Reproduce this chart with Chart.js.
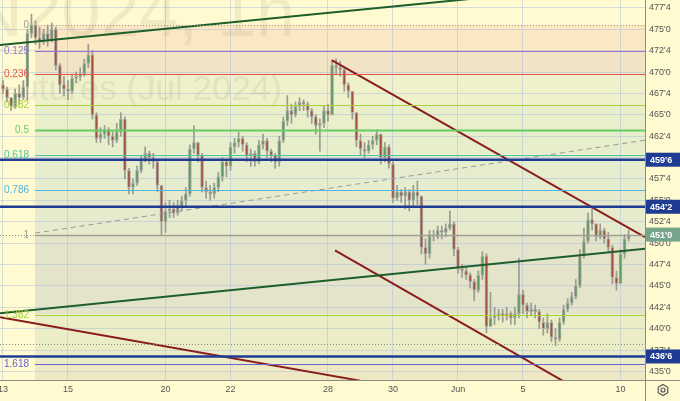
<!DOCTYPE html>
<html><head><meta charset="utf-8">
<script src="https://cdn.jsdelivr.net/npm/chart.js@4.4.1/dist/chart.umd.min.js"></script>
<style>html,body{margin:0;padding:0;background:#fffad0;}#wrap{width:680px;height:401px;position:relative;}</style>
</head><body><div id="wrap"><canvas id="c"></canvas></div>
<script>
// ---- data ----
const dayLabels = ["13","15","20","22","28","30","Jun","5","10"];
const dayTicks  = [0,2,5,7,10,12,14,16,19];
const barsPerDay = 8;
const opens = [468.5,468.0,467.0,466.0,467.5,467.0,468.25,474.5,475.5,474.0,473.5,474.5,473.75,475.0,470.75,468.5,468.0,467.75,469.25,469.5,469.75,471.0,472.0,465.0,462.25,462.75,463.25,462.5,462.0,463.0,464.5,458.5,456.5,457.0,458.5,459.75,460.5,460.0,459.5,456.75,452.5,453.75,454.0,453.5,454.25,455.0,455.75,461.0,461.75,460.25,456.5,456.0,455.75,456.5,457.75,459.5,459.0,461.25,461.75,462.25,461.5,460.25,460.5,459.5,461.5,462.0,460.75,460.25,459.5,462.0,464.25,465.5,465.0,466.0,466.5,466.25,465.5,464.75,463.75,464.0,465.5,465.0,470.75,470.5,470.25,468.5,467.75,465.25,462.0,461.0,460.75,461.5,462.0,462.75,460.0,461.25,459.25,455.25,456.0,455.5,456.0,455.0,456.0,455.5,449.5,448.75,451.0,450.75,451.5,451.25,451.75,452.25,449.25,447.0,446.75,446.25,445.5,444.5,446.25,448.5,440.25,441.25,441.5,441.75,441.5,441.75,441.25,441.75,444.0,442.75,442.0,442.25,442.0,440.75,440.0,440.75,439.0,438.75,440.75,442.25,443.0,443.75,445.0,448.5,450.25,452.75,452.25,450.75,451.5,450.5,449.5,446.0,445.25,448.75,450.5];
const highs = [469.0,468.25,467.0,468.0,468.5,469.0,475.0,476.75,476.0,475.25,475.0,475.5,475.75,475.25,471.0,469.5,469.0,469.75,470.0,470.5,471.5,473.25,472.5,465.25,463.5,463.75,463.5,463.0,464.0,465.25,464.75,458.75,457.5,459.0,460.25,461.25,460.75,460.5,459.75,456.75,454.75,455.0,454.75,455.0,455.5,456.5,461.5,463.75,461.75,460.5,457.25,456.75,457.0,458.25,460.0,459.75,461.75,462.25,463.0,462.5,461.75,461.0,460.75,462.0,462.75,462.25,461.0,460.5,462.5,464.75,467.25,466.25,466.5,467.0,466.75,466.5,465.75,465.0,464.5,466.0,466.25,471.25,471.5,471.25,470.5,468.75,467.75,465.25,462.75,461.75,462.0,462.5,463.25,462.75,461.75,461.5,459.5,456.75,456.25,456.5,456.25,456.75,457.25,455.5,450.5,451.5,451.5,452.0,452.0,452.25,453.75,452.5,449.5,447.5,447.25,446.5,445.75,446.75,449.0,448.75,444.25,442.5,442.25,442.25,442.5,442.0,442.5,448.25,444.5,443.0,443.0,442.75,442.25,441.25,441.75,441.0,440.0,441.25,442.75,443.5,444.25,445.75,449.25,451.75,453.5,454.0,452.25,452.25,451.75,451.25,449.75,446.75,449.25,451.0,451.5];
const lows = [467.5,466.5,465.5,465.75,466.25,466.75,466.75,474.0,473.25,472.75,473.25,473.0,473.5,470.25,467.5,467.25,466.75,467.5,468.75,469.0,469.5,470.5,464.5,461.75,461.75,462.25,461.5,461.25,461.75,462.5,457.5,455.75,455.75,456.75,458.25,459.5,459.25,458.75,456.0,451.0,451.25,453.0,453.0,453.25,453.75,454.25,455.5,460.5,459.5,456.0,455.25,455.0,455.25,456.0,457.25,457.75,458.5,460.5,461.25,460.75,459.5,459.0,459.0,459.25,461.0,460.0,459.5,458.75,459.0,461.75,463.75,464.0,464.75,465.5,465.5,464.75,464.0,462.75,460.75,463.5,464.25,465.0,469.75,469.5,467.75,467.0,464.5,461.25,460.25,460.0,460.5,461.0,461.5,459.25,459.5,458.75,454.75,455.0,454.75,454.0,453.75,454.25,454.5,448.75,447.5,448.25,450.25,450.5,450.5,450.75,451.5,448.5,446.5,446.0,445.75,444.75,443.25,444.25,445.75,439.5,440.25,440.5,441.0,440.75,441.0,440.5,440.5,441.25,441.75,441.25,441.5,441.25,440.0,439.25,439.5,438.5,438.0,438.5,440.5,442.0,442.75,443.5,444.75,448.25,450.0,451.5,450.25,450.5,450.0,449.0,445.25,444.5,445.25,448.25,450.25];
const closes = [468.0,467.0,466.0,467.5,467.0,468.25,474.5,475.5,474.0,473.5,474.5,473.75,475.0,470.75,468.5,468.0,467.75,469.25,469.5,469.75,471.0,472.0,465.0,462.25,462.75,463.25,462.5,462.0,463.0,464.5,458.5,456.5,457.0,458.5,459.75,460.5,460.0,459.5,456.75,452.5,453.75,454.0,453.5,454.25,455.0,455.75,461.0,461.75,460.25,456.5,456.0,455.75,456.5,457.75,459.5,459.0,461.25,461.75,462.25,461.5,460.25,460.5,459.5,461.5,462.0,460.75,460.25,459.5,462.0,464.25,465.5,465.0,466.0,466.5,466.25,465.5,464.75,463.75,464.0,465.5,465.0,470.75,470.5,470.25,468.5,467.75,465.25,462.0,461.0,460.75,461.5,462.0,462.75,460.0,461.25,459.25,455.25,456.0,455.5,456.0,455.0,456.0,455.5,449.5,448.75,451.0,450.75,451.5,451.25,451.75,452.25,449.25,447.0,446.75,446.25,445.5,444.5,446.25,448.5,440.25,441.25,441.5,441.75,441.5,441.75,441.25,441.75,444.0,442.75,442.0,442.25,442.0,440.75,440.0,440.75,439.0,438.75,440.75,442.25,443.0,443.75,445.0,448.5,450.25,452.75,452.25,450.75,451.5,450.5,449.5,446.0,445.25,448.75,450.5,451.0];
const yTicks = [435,437.5,440,442.5,445,447.5,450,452.5,455,457.5,460,462.5,465,467.5,470,472.5,475,477.5];
const fibStartDay = 0.985;
const fib0 = 475.5, fib1 = 451.0;
const fibRatios = [0,0.125,0.236,0.382,0.5,0.618,0.786,1,1.382,1.618];
const fibLabels = ["0","0.125","0.236","0.382","0.5","0.618","0.786","1","1.382","1.618"];
const keyLevels = [459.75, 454.25, 436.75];
const lastPrice = 451.0;
const dottedLevel = 438.25;
const greenUpper = [{x:-0.0923,y:473.15},{x:19.754,y:480.55}];
const greenLower = [{x:-0.0923,y:441.80},{x:19.754,y:449.34}];
const redUpper   = [{x:10.114,y:471.39},{x:19.754,y:450.70}];
const redLower   = [{x:10.215,y:449.15},{x:17.754,y:432.75}];
const redLeft    = [{x:-0.0923,y:441.33},{x:10.985,y:433.92}];
const grayDashed = [{x:0.985,y:451.17},{x:19.754,y:462.03}];

// ---- styles ----
const BG = '#fffad0';
const bandColors = ['#fbe8c3','#f1e4c4','#eff1ca','#e9efc9','#e6eecb','#e6edcf','#e7ebce','#e4e4cb','#ebedc6','#efe9c3'];
const fibColors = ['#9a9a90','#9575cd','#e0584f','#a8d23c','#66cc66','#4fc4a0','#4fb3e0','#a0a094','#a8d23c','#6b63d6'];
const FONT = '"Liberation Sans", Arial, sans-serif';
const fmt = v => { const i = Math.floor(v + 1e-9); const e = Math.round((v - i) * 8); return i + "'" + e; };
const fibPrice = r => fib0 - r * (fib0 - fib1);

const idx = closes.map((_, i) => i / barsPerDay);
const wickData = idx.map((d, i) => ({x: d, y: [lows[i], highs[i]]}));
const bodyData = idx.map((d, i) => ({x: d, y: [opens[i], closes[i]]}));

const decor = {
  id: 'decor',
  beforeDraw(chart) {
    const {ctx, chartArea: a, scales: {x, y}} = chart;
    ctx.save();
    ctx.fillStyle = BG; ctx.fillRect(0, 0, chart.width, chart.height);
    const x0 = x.getPixelForValue(fibStartDay);
    for (let i = 0; i < fibRatios.length; i++) {
      const p1 = y.getPixelForValue(fibPrice(fibRatios[i]));
      const p2 = i + 1 < fibRatios.length ? y.getPixelForValue(fibPrice(fibRatios[i + 1])) : a.bottom;
      ctx.fillStyle = bandColors[i];
      ctx.fillRect(x0, p1, a.right - x0, p2 - p1);
    }
    ctx.restore();
  },
  beforeDatasetsDraw(chart) {
    const {ctx, chartArea: a} = chart;
    ctx.save();
    ctx.beginPath(); ctx.rect(a.left, a.top, a.right - a.left, a.bottom - a.top); ctx.clip();
    ctx.fillStyle = 'rgba(90,80,40,0.085)';
    ctx.textBaseline = 'alphabetic';
    ctx.textAlign = 'right';
    ctx.font = '70px ' + FONT;
    ctx.fillText('ZCN2024, 1h', 295, 36);
    ctx.font = '35px ' + FONT;
    ctx.fillText('Corn Futures (Jul 2024)', 282, 100);
    ctx.restore();
  },
  afterDatasetsDraw(chart) {
    const {ctx, chartArea: a, scales: {x, y}} = chart;
    const x0 = x.getPixelForValue(fibStartDay);
    ctx.save();
    ctx.beginPath(); ctx.rect(a.left, a.top, a.right - a.left, a.bottom - a.top); ctx.clip();
    ctx.strokeStyle = '#8a8a80'; ctx.lineWidth = 1; ctx.setLineDash([1, 2]);
    [lastPrice, dottedLevel].forEach(v => {
      const p = Math.round(y.getPixelForValue(v)) + 0.5;
      ctx.beginPath(); ctx.moveTo(a.left, p); ctx.lineTo(a.right, p); ctx.stroke();
    });
    fibRatios.forEach((r, i) => {
      const p = Math.round(y.getPixelForValue(fibPrice(r))) + 0.5;
      ctx.strokeStyle = fibColors[i];
      ctx.lineWidth = (r === 0.5) ? 2 : (r === 1 ? 1.5 : 1);
      ctx.setLineDash(r === 0 ? [1, 2] : []);
      ctx.beginPath(); ctx.moveTo(x0, p); ctx.lineTo(a.right, p); ctx.stroke();
      ctx.setLineDash([]);
      ctx.fillStyle = fibColors[i];
      ctx.font = '10px ' + FONT;
      ctx.textAlign = 'right'; ctx.textBaseline = 'middle';
      ctx.fillText(fibLabels[i], x0 - 6, p);
    });
    ctx.strokeStyle = '#1f3c92'; ctx.lineWidth = 2.5; ctx.setLineDash([]);
    keyLevels.forEach(v => {
      const p = y.getPixelForValue(v);
      ctx.beginPath(); ctx.moveTo(a.left, p); ctx.lineTo(a.right, p); ctx.stroke();
    });
    ctx.restore();
  },
  afterDraw(chart) {
    const {ctx, chartArea: a, scales: {y}} = chart;
    ctx.save();
    ctx.strokeStyle = '#8c8c82'; ctx.lineWidth = 1;
    ctx.beginPath(); ctx.moveTo(a.right + 0.5, 0); ctx.lineTo(a.right + 0.5, chart.height); ctx.stroke();
    ctx.beginPath(); ctx.moveTo(0, a.bottom + 0.5); ctx.lineTo(chart.width, a.bottom + 0.5); ctx.stroke();
    const box = (v, col) => {
      const p = y.getPixelForValue(v);
      ctx.fillStyle = col;
      ctx.fillRect(a.right + 1, p - 7, chart.width - a.right - 1, 14);
      ctx.fillStyle = '#ffffff';
      ctx.font = 'bold 9px ' + FONT;
      ctx.textAlign = 'left'; ctx.textBaseline = 'middle';
      ctx.fillText(fmt(v), a.right + 5, p + 0.5);
    };
    keyLevels.forEach(v => box(v, '#1f3c92'));
    box(lastPrice, '#76a48b');
    const cx = 663, cy = 390, r = 5.5;
    ctx.strokeStyle = '#555'; ctx.lineWidth = 1.2;
    ctx.beginPath();
    for (let k = 0; k < 6; k++) {
      const ang = Math.PI / 6 + k * Math.PI / 3;
      const px = cx + r * Math.cos(ang), py = cy + r * Math.sin(ang);
      if (k === 0) ctx.moveTo(px, py); else ctx.lineTo(px, py);
    }
    ctx.closePath(); ctx.stroke();
    ctx.beginPath(); ctx.arc(cx, cy, 2, 0, Math.PI * 2); ctx.stroke();
    ctx.restore();
  }
};

const lineDs = (data, color, width, dash) => ({
  type: 'line', data, borderColor: color, borderWidth: width, borderDash: dash || [],
  pointRadius: 0, fill: false, tension: 0, order: 0, clip: 0
});

new Chart(document.getElementById('c'), {
  type: 'bar',
  data: {
    datasets: [
      {data: wickData, backgroundColor: '#9a9a92', barThickness: 1, grouped: false, order: 3, borderWidth: 0},
      {data: bodyData, backgroundColor: c => closes[c.dataIndex] >= opens[c.dataIndex] ? '#5f9a63' : '#a4513f',
       borderColor: '#abaca3', borderWidth: 1, borderSkipped: false, barThickness: 3, minBarLength: 1, grouped: false, order: 2},
      lineDs(grayDashed, '#9a9a94', 1, [5, 4]),
      lineDs(greenUpper, '#1e5e2a', 2),
      lineDs(greenLower, '#1e5e2a', 2),
      lineDs(redUpper, '#8a1c1c', 2),
      lineDs(redLower, '#8a1c1c', 2),
      lineDs(redLeft, '#8a1c1c', 2)
    ]
  },
  options: {
    responsive: true, maintainAspectRatio: false, animation: false,
    layout: {padding: 0},
    plugins: {legend: {display: false}, tooltip: {enabled: false}},
    scales: {
      x: {
        type: 'linear', offset: false, min: -0.0923, max: 19.754,
        grid: {color: 'rgba(165,185,225,0.45)', drawTicks: false, offset: false},
        border: {display: false},
        afterBuildTicks: s => { s.ticks = dayTicks.map(v => ({value: v})); },
        afterFit: s => { s.height = 21; s.paddingLeft = 0; s.paddingRight = 0; },
        ticks: {padding: 4, color: '#555', font: {size: 9, family: FONT}, maxRotation: 0, autoSkip: false,
          callback: v => { const k = dayTicks.indexOf(v); return k >= 0 ? dayLabels[k] : ''; }}
      },
      y: {
        position: 'right', min: 434.0, max: 478.42,
        grid: {color: 'rgba(165,185,225,0.45)', drawTicks: false},
        border: {display: false},
        afterBuildTicks: s => { s.ticks = yTicks.map(v => ({value: v})); },
        afterFit: s => { s.width = 35; s.paddingTop = 0; s.paddingBottom = 0; },
        ticks: {padding: 4, color: '#555', font: {size: 9, family: FONT}, callback: v => fmt(v)}
      }
    }
  },
  plugins: [decor]
});
</script></body></html>
